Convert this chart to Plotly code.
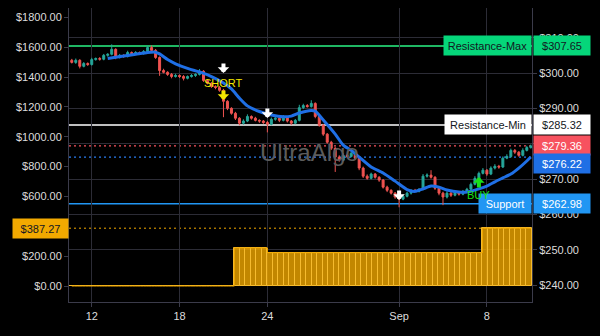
import plotly.graph_objects as go

# ---------------- price data (right axis) ----------------
first_open = 303.6
close = [303.0, 303.6, 301.9, 302.7, 302.4, 303.8, 304.1, 303.9, 305.0, 305.3,
         306.7, 304.4, 305.0, 304.7, 305.8, 305.5, 305.8, 305.5, 306.1, 307.2,
         306.4, 304.4, 300.7, 300.2, 299.6, 299.0, 299.3, 299.0, 298.5, 299.0,
         299.3, 299.6, 300.5, 297.9, 297.1, 296.2, 295.9, 295.1, 292.0, 290.0,
         288.6, 287.2, 285.8, 286.4, 287.7, 287.2, 286.6, 286.4, 286.0, 285.5,
         286.9, 287.2, 286.6, 287.5, 286.4, 285.8, 286.6, 290.2, 290.8, 290.5,
         291.4, 287.7, 285.2, 282.7, 280.4, 278.7, 276.2, 275.3, 276.7, 276.4,
         277.3, 275.9, 273.1, 270.8, 270.2, 271.4, 270.5, 269.7, 267.7, 266.8,
         266.0, 264.9, 264.3, 265.1, 266.0, 266.8, 266.5, 267.1, 270.8, 271.1,
         270.5, 267.4, 266.0, 264.9, 266.0, 265.4, 266.3, 265.7, 266.5, 267.1,
         268.5, 270.2, 271.6, 272.5, 271.4, 273.1, 273.6, 273.4, 275.9, 276.4,
         278.1, 277.6, 276.7, 278.1, 278.9, 279.36]
wick_hi = [0.4, 0.5, 0.3, 0.4, 0.3, 0.5, 0.3, 0.4, 0.4, 0.3,
           1.4, 0.3, 0.4, 0.3, 0.5, 0.3, 0.4, 0.3, 0.4, 0.5,
           0.6, 0.4, 0.3, 0.5, 0.3, 0.4, 0.5, 0.3, 0.4, 0.3,
           0.4, 0.3, 0.6, 0.3, 0.4, 0.3, 0.3, 0.4, 0.4, 0.3,
           0.3, 0.4, 0.3, 0.5, 0.6, 0.3, 0.4, 0.3, 0.3, 0.4,
           0.5, 0.4, 0.3, 0.6, 0.3, 0.3, 0.4, 0.8, 0.5, 0.4,
           0.9, 0.3, 0.3, 0.4, 0.3, 0.4, 0.3, 0.5, 0.6, 0.4,
           0.5, 0.3, 0.3, 0.4, 0.5, 0.4, 0.3, 0.3, 0.3, 0.4,
           0.3, 0.3, 0.3, 0.5, 0.4, 0.3, 0.4, 0.3, 0.6, 0.5,
           1.4, 0.3, 0.3, 0.4, 0.5, 0.3, 0.4, 0.3, 0.4, 0.4,
           0.5, 0.6, 0.5, 0.6, 0.3, 0.5, 0.6, 0.4, 0.5, 0.6,
           0.5, 0.4, 0.3, 0.6, 0.5, 0.4]
wick_lo = [0.3, 0.4, 0.6, 0.3, 0.4, 0.3, 0.3, 0.4, 0.3, 0.4,
           0.3, 0.5, 0.3, 0.4, 0.3, 0.4, 0.3, 0.4, 0.3, 0.3,
           0.4, 0.4, 1.5, 0.3, 0.4, 0.5, 0.3, 0.4, 0.6, 0.3,
           0.3, 0.4, 0.3, 0.4, 0.3, 0.4, 0.5, 0.4, 4.5, 0.5,
           0.4, 0.5, 0.6, 0.4, 0.3, 0.4, 0.3, 0.5, 0.4, 2.3,
           0.3, 0.4, 0.5, 0.3, 0.4, 0.5, 0.3, 0.3, 0.4, 0.3,
           0.3, 0.5, 0.4, 0.5, 0.4, 0.5, 4.2, 0.4, 0.3, 0.4,
           0.3, 0.5, 0.6, 0.5, 0.4, 0.3, 0.4, 0.5, 0.4, 0.5,
           0.4, 0.5, 2.3, 0.3, 0.3, 0.4, 0.3, 0.3, 0.3, 0.4,
           0.4, 0.5, 0.6, 2.3, 0.4, 0.5, 0.3, 0.4, 0.3, 0.3,
           0.3, 0.3, 0.4, 0.3, 0.5, 0.3, 0.4, 0.5, 0.3, 0.3,
           0.4, 0.5, 0.4, 0.3, 0.3, 0.3]

# moving average (sampled at bar indices)
ma_idx = [9, 13, 16, 19, 21, 22, 24, 26, 29, 32, 35, 38, 40, 42, 44, 47, 50, 53, 55,
          57, 60, 61, 63, 66, 68, 70, 72, 75, 78, 81, 84, 86, 88, 90, 92, 94, 97,
          99, 102, 104, 106, 108, 110, 112, 114, 115]
ma_val = [304.1, 304.8, 305.3, 305.8, 305.9, 305.4, 303.8, 302.6, 301.3, 300.3,
          299.0, 297.2, 295.5, 292.9, 290.7, 289.1, 288.1, 287.6, 287.8, 288.7,
          289.4, 289.2, 286.7, 282.7, 279.6, 278.1, 276.2, 273.4, 271.7, 269.4,
          267.0, 266.5, 267.2, 268.0, 267.7, 266.9, 266.3, 266.3, 267.2, 268.0,
          269.2, 270.3, 271.4, 273.1, 275.1, 276.22]

# x-axis date labels (bar index of each date)
tick_idx = [5, 27, 49, 82, 104]
tick_text = ["12", "18", "24", "Sep", "8"]

# axis ticks
price_ticks = [240, 250, 260, 270, 280, 290, 300, 310]
pnl_ticks = [0, 200, 400, 600, 800, 1000, 1200, 1400, 1600, 1800]

# key levels
level_names = ["Resistance-Max", "Resistance-Min", "Support"]
level_values = [307.65, 285.32, 262.98]

# signals: (bar index, arrow tip price)
short_signal = (38, 292.36)
buy_signal = (102, 270.57)
marker_idx = [38, 49, 82]
marker_price = [300.0, 287.27, 264.06]

# ---------------- P&L histogram (left axis) ----------------
pnl = [0.0] * 30 + [255.0] * 6 + [223.0] * 39 + [387.27] * 9

# ---------------- colours ----------------
UP = "#26a69a"
DOWN = "#ef5350"
MA_BLUE = "#1f6fe5"
GREEN = "#05d67a"
SUP_BLUE = "#2196f3"
ORANGE = "#f2a900"
GRID = "#2c2c36"
AXIS = "#3b3b4a"
TXT = "#dcdcdc"
FONT = "Liberation Sans, Arial, sans-serif"


def money(v):
    return "$" + format(v, ".2f")


opens = [first_open] + close[:-1]
highs = [max(o, c) + w for o, c, w in zip(opens, close, wick_hi)]
lows = [min(o, c) - w for o, c, w in zip(opens, close, wick_lo)]
idx = list(range(len(close)))

fig = go.Figure()

fig.add_trace(go.Bar(
    x=list(range(len(pnl))), y=pnl, xaxis="x2", yaxis="y2",
    marker=dict(color="rgba(242,169,0,0.80)", line=dict(color="#f6bb2e", width=1)),
    showlegend=False, hoverinfo="skip"))
fig.add_trace(go.Scatter(
    x=list(range(len(pnl))), y=pnl, xaxis="x2", yaxis="y2", mode="lines",
    line=dict(color=ORANGE, width=1, shape="hvh"), showlegend=False, hoverinfo="skip"))

fig.add_trace(go.Candlestick(
    x=idx, open=opens, high=highs, low=lows, close=close,
    increasing=dict(line=dict(color=UP, width=1), fillcolor=UP),
    decreasing=dict(line=dict(color=DOWN, width=1), fillcolor=DOWN),
    showlegend=False, hoverinfo="skip"))

fig.add_trace(go.Scatter(
    x=ma_idx, y=ma_val, mode="lines",
    line=dict(color=MA_BLUE, width=3, shape="spline", smoothing=0.6),
    showlegend=False, hoverinfo="skip"))


def hline(value, color, width=1, dash="solid", yref="y"):
    return dict(type="line", xref="paper", x0=0, x1=1, yref=yref, y0=value, y1=value,
                line=dict(color=color, width=width, dash=dash), layer="between")


last_price = close[-1]
ma_last = ma_val[-1]
pnl_last = pnl[-1]

shapes = [
    hline(level_values[0], "#2af585", 1.5),
    hline(level_values[1], "#ffffff", 1.5),
    hline(last_price, "#f7525f", 1.2, "2px,3px"),
    hline(ma_last, "#2a7cf0", 1.2, "2px,3px"),
    hline(level_values[2], SUP_BLUE, 1.5),
    hline(pnl_last, ORANGE, 1, "2px,3px", yref="y2"),
]

annotations = []


def price_box(value, bg, fg, yref="y", yshift=0, left=False):
    annotations.append(dict(
        xref="paper", yref=yref, x=0 if left else 1, y=value,
        xanchor="right" if left else "left", yanchor="middle",
        xshift=0 if left else 1, yshift=yshift,
        text=money(value), showarrow=False, bgcolor=bg, width=51 if left else 52,
        height=15, borderpad=2, align="center",
        font=dict(family=FONT, size=11, color=fg)))


def name_box(name, value, bg, fg, width):
    annotations.append(dict(
        xref="paper", yref="y", x=1, y=value, xanchor="right", yanchor="middle",
        text=name, showarrow=False, bgcolor=bg, width=width, height=15, borderpad=2,
        align="center", font=dict(family=FONT, size=11, color=fg)))


name_box(level_names[0], level_values[0], GREEN, "#131722", 83)
price_box(level_values[0], GREEN, "#131722")
name_box(level_names[1], level_values[1], "#ffffff", "#131722", 82)
price_box(level_values[1], "#ffffff", "#131722")
price_box(last_price, "#f7525f", "#ffffff")
price_box(ma_last, MA_BLUE, "#ffffff", yshift=-6)
name_box(level_names[2], level_values[2], SUP_BLUE, "#ffffff", 48)
price_box(level_values[2], SUP_BLUE, "#ffffff")
price_box(pnl_last, ORANGE, "#131722", yref="y2", left=True)

# watermark
annotations.append(dict(xref="paper", yref="paper", x=0.52, y=0.51, text="UltraAlgo",
                        showarrow=False, font=dict(family=FONT, size=24, color="#5c5c5c")))

# signal arrows
ARROW = dict(showarrow=True, ax=0, arrowhead=1, arrowwidth=4, arrowsize=0.48, standoff=0)
for mi, mp in zip(marker_idx, marker_price):
    annotations.append(dict(x=mi, y=mp, xref="x", yref="y", text="", ay=-11,
                            arrowcolor="#ffffff", **ARROW))
annotations.append(dict(x=short_signal[0], y=short_signal[1], xref="x", yref="y",
                        text="SHORT", ay=-17, arrowcolor="#f2e600",
                        font=dict(family=FONT, size=11, color="#f2e600"), **ARROW))
annotations.append(dict(x=buy_signal[0], y=buy_signal[1], xref="x", yref="y",
                        text="BUY", ay=18, arrowcolor="#19e019",
                        font=dict(family=FONT, size=11, color="#19e019"), **ARROW))

fig.update_layout(
    width=600, height=336,
    margin=dict(l=69, r=68, t=8, b=34),
    paper_bgcolor="#000000", plot_bgcolor="#000000",
    font=dict(family=FONT, size=11, color=TXT),
    bargap=0, showlegend=False, hovermode=False,
    shapes=shapes, annotations=annotations,
    xaxis=dict(range=[-0.7, 115.3], tickmode="array", tickvals=tick_idx, ticktext=tick_text,
               showgrid=True, gridcolor=GRID, gridwidth=1, zeroline=False,
               showline=True, linecolor=AXIS, linewidth=1, ticks="outside", ticklen=4,
               tickcolor=AXIS, tickfont=dict(family=FONT, size=11, color=TXT),
               rangeslider=dict(visible=False), fixedrange=True),
    xaxis2=dict(range=[-0.5, 83.5], overlaying="x", visible=False, fixedrange=True),
    yaxis=dict(side="right", range=[235.19, 318.4], tickmode="array",
               tickvals=price_ticks, ticktext=[money(v) for v in price_ticks],
               showgrid=True, gridcolor=GRID, gridwidth=1,
               zeroline=False, showline=True, linecolor=AXIS, linewidth=1,
               ticks="outside", ticklen=4, tickcolor=AXIS,
               tickfont=dict(family=FONT, size=11, color=TXT), fixedrange=True),
    yaxis2=dict(side="left", overlaying="y", range=[-107.2, 1862.3], tickmode="array",
                tickvals=pnl_ticks, ticktext=[money(v) for v in pnl_ticks],
                showgrid=False, zeroline=False,
                showline=True, linecolor=AXIS, linewidth=1, ticks="outside", ticklen=4,
                tickcolor=AXIS, tickfont=dict(family=FONT, size=11, color=TXT),
                fixedrange=True),
)

fig.write_html("out.html")
